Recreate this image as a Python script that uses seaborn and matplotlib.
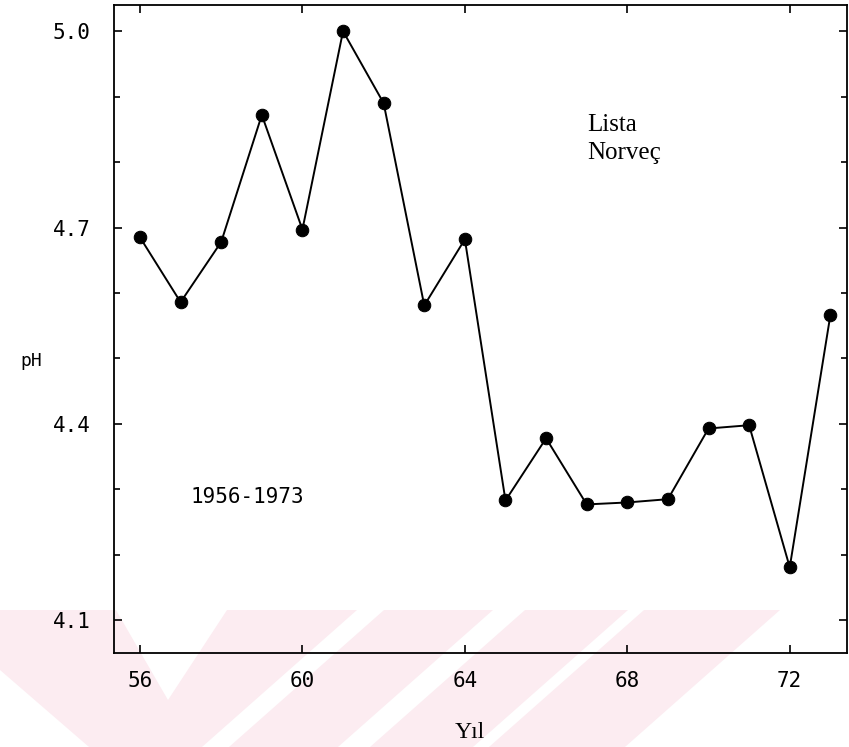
import matplotlib
matplotlib.use("Agg")
import matplotlib.pyplot as plt
from matplotlib.patches import Polygon
from matplotlib.ticker import MultipleLocator, FixedLocator
import seaborn as sns
import pandas as pd

# ---- data ----
years = [56, 57, 58, 59, 60, 61, 62, 63, 64, 65, 66, 67, 68, 69, 70, 71, 72, 73]
ph = [4.685, 4.586, 4.678, 4.872, 4.697, 5.00, 4.890, 4.581, 4.682,
      4.283, 4.378, 4.277, 4.280, 4.285, 4.393, 4.398, 4.181, 4.566]
x_ticks = [56, 60, 64, 68, 72]
y_ticks = [4.1, 4.4, 4.7, 5.0]
y_ticklabels = ["4.1", "4.4", "4.7", "5.0"]
x_label = "Yıl"
y_label = "pH"
site_label = "Lista\nNorveç"
period_label = "1956-1973"

df = pd.DataFrame({"year": years, "ph": ph})

sns.set_style("ticks")
plt.rcParams["font.family"] = ["DejaVu Sans Mono"]
plt.rcParams["text.color"] = "black"
plt.rcParams["axes.labelcolor"] = "black"
plt.rcParams["xtick.color"] = "black"
plt.rcParams["ytick.color"] = "black"

W, H = 849, 747
fig = plt.figure(figsize=(W / 100, H / 100), dpi=100)
fig.patch.set_facecolor("white")

# faint pink watermark stripes (figure pixel coords)
def px(pts):
    return [(x / W, 1 - y / H) for x, y in pts]

pink = "#fcecf1"
shapes = [
    [(0, 610), (116, 610), (168, 700), (227, 610), (357, 610), (202, 747), (89, 747), (0, 670)],
    [(384, 610), (493, 610), (338, 747), (229, 747)],
    [(525, 610), (628, 610), (473, 747), (370, 747)],
    [(644, 610), (780, 610), (625, 747), (489, 747)],
]
for s in shapes:
    fig.patches.append(Polygon(px(s), closed=True, transform=fig.transFigure,
                               facecolor=pink, edgecolor="none", zorder=-5))

left, right, top, bottom = 114, 847, 5, 653
ax = fig.add_axes([left / W, 1 - bottom / H, (right - left) / W, (bottom - top) / H])
ax.set_zorder(2)
ax.patch.set_alpha(0)

sns.lineplot(data=df, x="year", y="ph", ax=ax, color="black", linewidth=1.4,
             marker="o", markersize=9, markeredgecolor="black",
             markerfacecolor="black")

ax.set_xlim(55.36, 73.41)
ax.set_ylim(4.05, 5.04)

ax.xaxis.set_major_locator(FixedLocator(x_ticks))
ax.set_xticklabels([str(t) for t in x_ticks])
ax.yaxis.set_major_locator(FixedLocator(y_ticks))
ax.set_yticklabels(y_ticklabels)
ax.yaxis.set_minor_locator(MultipleLocator(0.1))

ax.tick_params(axis="both", which="both", direction="in", top=True, right=True,
               color="black", width=1.2, labelcolor="black")
ax.tick_params(axis="both", which="major", length=6, labelsize=15)
ax.tick_params(axis="x", which="major", pad=13)
ax.tick_params(axis="y", which="major", pad=17)
ax.tick_params(axis="y", which="minor", length=4)
ax.tick_params(axis="x", which="minor", length=0)

for sp in ax.spines.values():
    sp.set_visible(True)
    sp.set_color("black")
    sp.set_linewidth(1.3)

ax.set_xlabel(x_label, family="Liberation Serif", fontsize=17, color="black")
ax.xaxis.set_label_coords((470 - left) / (right - left), (bottom - 722) / (bottom - top))
ax.set_ylabel(y_label, rotation=0, fontsize=13, color="black")
ax.yaxis.set_label_coords((31 - left) / (right - left), (bottom - 370) / (bottom - top))

ax.text((587 - left) / (right - left), (bottom - 114) / (bottom - top), site_label,
        transform=ax.transAxes, family="Liberation Serif", fontsize=18,
        ha="left", va="top", linespacing=1.35, color="black")
ax.text((247 - left) / (right - left), (bottom - 497) / (bottom - top), period_label,
        transform=ax.transAxes, fontsize=15, ha="center", va="center", color="black")

fig.savefig("out.png", dpi=100, facecolor="white")
